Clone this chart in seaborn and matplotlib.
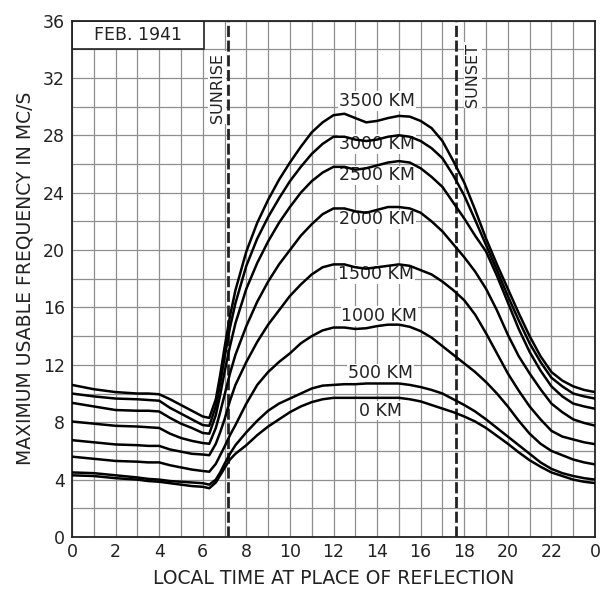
import matplotlib
matplotlib.use("Agg")
import matplotlib.pyplot as plt
import pandas as pd
import seaborn as sns
from matplotlib.patches import Rectangle

# ---- data ----
hours = [0, 1, 2, 3, 3.5, 4, 4.5, 5, 5.5, 6,
         6.3, 6.6, 6.8, 7, 7.25, 7.5,
         8, 8.5, 9, 9.5, 10, 10.5, 11, 11.5, 12, 12.5,
         13, 13.5, 14, 14.5, 15, 15.5, 16, 16.5, 17, 17.5,
         18, 18.5, 19, 19.5, 20, 20.5, 21, 21.5, 22, 22.5,
         23, 23.5, 24]

muf_0km = [4.3, 4.25, 4.1, 4.0, 3.9, 3.85, 3.75, 3.65, 3.55, 3.5,
           3.4, 3.8, 4.3, 4.8, 5.4, 5.8,
           6.4, 7.1, 7.7, 8.2, 8.7, 9.1, 9.4, 9.6, 9.7, 9.7,
           9.7, 9.7, 9.7, 9.7, 9.7, 9.6, 9.45, 9.2, 8.95, 8.7,
           8.4, 8.05, 7.6, 7.05, 6.5, 5.9, 5.35, 4.9, 4.5, 4.25,
           4.0, 3.85, 3.76]
muf_500km = [4.5, 4.45, 4.3, 4.15, 4.05, 4.0, 3.9, 3.85, 3.8, 3.75,
             3.65, 4.0, 4.5, 5.1, 5.8, 6.4,
             7.3, 8.1, 8.8, 9.3, 9.65, 10.0, 10.35, 10.55, 10.6, 10.65,
             10.65, 10.7, 10.7, 10.7, 10.7, 10.6, 10.45, 10.25, 10.0, 9.6,
             9.2, 8.75, 8.2, 7.6, 7.0, 6.4, 5.8, 5.2, 4.75, 4.45,
             4.25, 4.1, 4.0]
muf_1000km = [5.6, 5.45, 5.3, 5.25, 5.2, 5.2, 5.0, 4.85, 4.7, 4.6,
              4.55, 5.1, 5.7, 6.3, 7.1, 7.8,
              9.3, 10.6, 11.5, 12.2, 12.8, 13.5, 14.0, 14.4, 14.6, 14.6,
              14.5, 14.55, 14.7, 14.8, 14.8, 14.65, 14.35, 13.9, 13.3, 12.7,
              12.1, 11.5, 10.8, 10.0, 9.1, 8.1, 7.2, 6.5, 6.0, 5.7,
              5.4, 5.2, 5.06]
muf_1500km = [6.75, 6.6, 6.45, 6.4, 6.35, 6.35, 6.1, 5.95, 5.8, 5.75,
              5.7, 6.5, 7.3, 8.2, 9.5, 10.6,
              12.2, 13.6, 14.8, 15.8, 16.8, 17.6, 18.3, 18.8, 19.0, 19.0,
              18.8, 18.7, 18.8, 18.9, 19.0, 18.9, 18.6, 18.3, 17.8, 17.2,
              16.5, 15.5, 14.2, 12.8, 11.4, 10.2, 9.1, 8.2, 7.4, 7.0,
              6.8, 6.6, 6.47]
muf_2000km = [8.05, 7.9, 7.75, 7.7, 7.65, 7.6, 7.2, 6.9, 6.7, 6.55,
              6.5, 7.6, 8.7, 9.9, 11.4, 12.7,
              14.7, 16.4, 17.8, 19.0, 20.0, 21.0, 21.8, 22.5, 22.9, 22.9,
              22.7, 22.6, 22.8, 23.0, 23.0, 22.9, 22.6, 22.0, 21.3, 20.4,
              19.5, 18.5, 17.3, 15.8, 14.1, 12.6, 11.4, 10.3, 9.3, 8.7,
              8.2, 7.95, 7.76]
muf_2500km = [9.35, 9.1, 8.85, 8.8, 8.8, 8.75, 8.3, 7.9, 7.6, 7.25,
              7.2, 8.5, 9.9, 11.5, 13.3, 14.9,
              17.3, 19.1, 20.6, 21.9, 23.0, 24.0, 24.8, 25.4, 25.8, 25.8,
              25.6, 25.7, 25.9, 26.1, 26.2, 26.1, 25.7, 25.1, 24.4, 23.3,
              22.2, 21.0, 19.9, 18.2, 16.35, 14.5, 12.9, 11.6, 10.5, 9.8,
              9.3, 9.1, 8.94]
muf_3000km = [10.0, 9.8, 9.65, 9.6, 9.55, 9.5, 9.0, 8.6, 8.2, 7.8,
              7.75, 9.1, 10.7, 12.5, 14.6, 16.3,
              18.9, 20.8, 22.3, 23.6, 24.8, 25.8, 26.7, 27.4, 27.9, 27.9,
              27.7, 27.6, 27.7, 27.9, 28.0, 27.9, 27.6, 27.1, 26.4, 25.2,
              23.8, 22.1, 20.35, 18.6, 16.8, 15.1, 13.5, 12.2, 11.1, 10.5,
              10.0, 9.8, 9.65]
muf_3500km = [10.6, 10.3, 10.1, 10.0, 10.0, 9.95, 9.6, 9.2, 8.8, 8.4,
              8.3, 9.6, 11.3, 13.2, 15.4, 17.2,
              19.9, 21.9, 23.5, 24.9, 26.1, 27.2, 28.2, 28.9, 29.4, 29.5,
              29.2, 28.9, 29.0, 29.2, 29.35, 29.3, 29.0, 28.5, 27.6, 26.2,
              24.7, 22.8, 20.8, 19.0, 17.3, 15.6, 14.0, 12.6, 11.5, 10.9,
              10.5, 10.25, 10.1]

distance_labels = ["0 KM", "500 KM", "1000 KM", "1500 KM",
                   "2000 KM", "2500 KM", "3000 KM", "3500 KM"]
label_hour = [14.15, 14.15, 14.1, 13.95, 14.0, 14.0, 14.0, 14.0]
label_value = [8.8, 11.4, 15.4, 18.3, 22.15, 25.2, 27.4, 30.4]

sunrise_hour = 7.15
sunset_hour = 17.6
xtick_positions = list(range(0, 25, 2))
xtick_labels = ["0", "2", "4", "6", "8", "10", "12", "14", "16", "18", "20", "22", "0"]
ytick_positions = list(range(0, 37, 4))
title_text = "FEB. 1941"
x_title = "LOCAL TIME AT PLACE OF REFLECTION"
y_title = "MAXIMUM USABLE FREQUENCY IN MC/S"

# ---- build long table ----
series = [muf_0km, muf_500km, muf_1000km, muf_1500km,
          muf_2000km, muf_2500km, muf_3000km, muf_3500km]
rows = []
for name, vals in zip(distance_labels, series):
    for h, v in zip(hours, vals):
        rows.append({"hour": h, "muf": v, "distance": name})
df = pd.DataFrame(rows)

sns.set_theme(style="white")
plt.rcParams["font.family"] = ["DejaVu Sans"]

W, H = 607, 593
fig = plt.figure(figsize=(W / 100, H / 100), dpi=100)
fig.patch.set_facecolor("white")
ax = fig.add_axes([72 / W, 1 - 537 / H, (595 - 72) / W, (537 - 20.5) / H])

sns.lineplot(data=df, x="hour", y="muf", hue="distance",
             palette=["black"] * len(distance_labels), legend=False,
             linewidth=1.8, estimator=None, sort=True, ax=ax, zorder=4)

ax.set_xlim(0, 24)
ax.set_ylim(0, 36)
ax.set_xticks(xtick_positions)
ax.set_xticklabels(xtick_labels)
ax.set_yticks(ytick_positions)
ax.set_xticks(range(0, 25), minor=True)
ax.set_yticks(range(0, 37, 2), minor=True)
ax.grid(which="both", color="#8f8f8f", linewidth=0.9)
ax.set_axisbelow(True)
ax.tick_params(which="both", length=0, labelsize=12.5, colors="#222222")
ax.tick_params(axis="x", pad=4)
ax.tick_params(axis="y", pad=5)
for s in ax.spines.values():
    s.set_color("#222222")
    s.set_linewidth(1.3)

ax.set_xlabel(x_title, fontsize=13.5, labelpad=6, color="#222222")
ax.set_ylabel(y_title, fontsize=13.5, labelpad=6, color="#222222")

# title box
ax.add_patch(Rectangle((0, 34), 6.08, 2, facecolor="white",
                       edgecolor="#222222", linewidth=1.2, zorder=2.5))
ax.text(3.04, 35, title_text, ha="center", va="center", fontsize=12.5,
        color="#222222", zorder=2.6)

# sunrise / sunset
for xh in (sunrise_hour, sunset_hour):
    ax.axvline(xh, color="#222222", linewidth=2.0, dashes=(4, 1.3), zorder=3)
ax.text(6.67, 31.3, "SUNRISE", rotation=90, ha="center", va="center",
        fontsize=11.5, color="#222222", zorder=2.6,
        bbox=dict(facecolor="white", edgecolor="none", pad=1))
ax.text(18.4, 32.2, "SUNSET", rotation=90, ha="center", va="center",
        fontsize=11.5, color="#222222", zorder=2.6,
        bbox=dict(facecolor="white", edgecolor="none", pad=1))

# curve labels
for lab, lh, lv in zip(distance_labels, label_hour, label_value):
    ax.text(lh, lv, lab, ha="center", va="center", fontsize=12.5,
            color="#222222", zorder=3.5,
            bbox=dict(facecolor="white", edgecolor="none", pad=0.5))

fig.savefig("out.png", dpi=100, facecolor="white")
